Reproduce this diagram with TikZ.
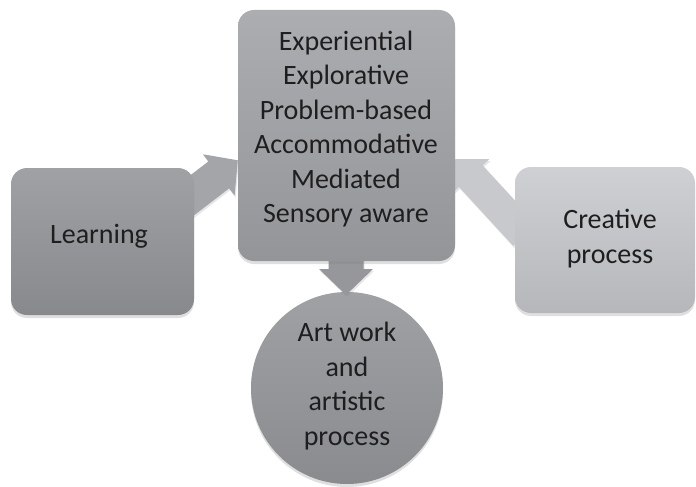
\documentclass[tikz,border=0pt]{standalone}
\usepackage{fontspec}
\setmainfont{Carlito}
\usetikzlibrary{shadows}
\definecolor{txt}{RGB}{30,30,30}
\definecolor{lrnTop}{RGB}{160,161,165}
\definecolor{lrnBot}{RGB}{136,137,141}
\definecolor{ctrTop}{RGB}{172,173,177}
\definecolor{ctrBot}{RGB}{148,149,153}
\definecolor{creTop}{RGB}{207,208,211}
\definecolor{creBot}{RGB}{182,183,187}
\definecolor{cirTop}{RGB}{160,161,165}
\definecolor{cirBot}{RGB}{138,139,143}
\definecolor{arrL}{RGB}{164,165,169}
\definecolor{arrR}{RGB}{200,201,204}
\definecolor{arrD}{RGB}{150,151,155}
\tikzset{
  lbl/.style={text=txt, font=\fontsize{28}{34.5}\selectfont, align=center},
  boxbase/.style={draw=none, rounded corners=16pt, inner sep=0pt,
    drop shadow={shadow xshift=0pt, shadow yshift=-3pt, opacity=0.25}},
  blockarrow/.style={draw=none,
    drop shadow={shadow xshift=1pt, shadow yshift=-2pt, opacity=0.2}}
}
\begin{document}
\begin{tikzpicture}[x=1pt,y=-1pt]
\useasboundingbox (0,0) rectangle (696,487);
% circle
\node[circle, minimum size=192pt, inner sep=0pt, top color=cirTop, bottom color=cirBot,
  drop shadow={shadow xshift=0pt, shadow yshift=-3pt, opacity=0.25}] (art) at (347,388) {};
\node[lbl] (arttext) at (347,386) {Art work\\and\\artistic\\process};
% arrows
\begin{scope}[shift={(155.3,223.6)}, rotate=37.5]
  \fill[arrL, blockarrow] (0,-17) -- (80,-17) -- (80,-26) -- (104,0) -- (80,26) -- (80,17) -- (0,17) -- cycle;
\end{scope}
\begin{scope}[shift={(525,235)}, rotate=132.6]
  \fill[arrR, blockarrow] (0,-16) -- (80,-16) -- (80,-25) -- (103,0) -- (80,25) -- (80,16) -- (0,16) -- cycle;
\end{scope}
\begin{scope}[shift={(346,245)}, rotate=-90]
  \fill[arrD, blockarrow] (0,-17.5) -- (24,-17.5) -- (24,-27) -- (50,0) -- (24,27) -- (24,17.5) -- (0,17.5) -- cycle;
\end{scope}
% boxes
\node[boxbase, minimum width=183pt, minimum height=147pt, top color=lrnTop, bottom color=lrnBot] (learn) at (102.5,241.5) {};
\node[lbl] (learntext) at (99,236) {Learning};
\node[boxbase, minimum width=217pt, minimum height=251pt, top color=ctrTop, bottom color=ctrBot] (center) at (346.5,135.5) {};
\node[lbl] (centertext) at (346,129) {Experiential\\Explorative\\Problem-based\\Accommodative\\Mediated\\Sensory aware};
\node[boxbase, minimum width=180pt, minimum height=146pt, top color=creTop, bottom color=creBot] (creative) at (605,240) {};
\node[lbl] (creativetext) at (610,238.5) {Creative\\process};
\end{tikzpicture}
\end{document}
